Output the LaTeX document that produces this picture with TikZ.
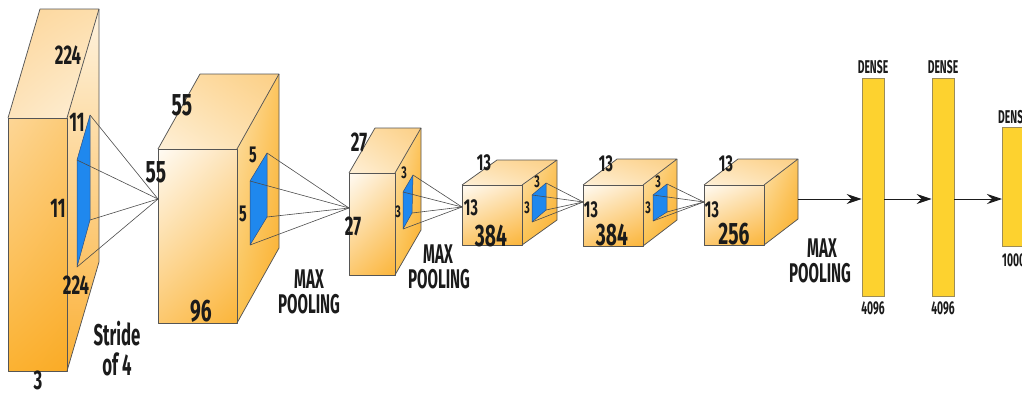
\documentclass[tikz,border=0pt]{standalone}
\usepackage{fontspec}
\newfontfamily\labfont{Fira Sans}[FakeStretch=0.56]
\newfontfamily\numfont{Fira Sans}[FakeStretch=0.62]
\usetikzlibrary{arrows.meta,shadings}

\definecolor{edgegray}{HTML}{555555}
\definecolor{ink}{HTML}{1B1B1B}
\definecolor{kblue}{HTML}{1F88EE}
\definecolor{kedge}{HTML}{2F4F7F}
\definecolor{densefill}{HTML}{FDD22F}
\definecolor{densedraw}{HTML}{9C8C58}

\tikzset{
  edge/.style={draw=edgegray, line width=0.75pt, line join=round},
  ray/.style={draw=edgegray!90!black, line width=0.6pt},
  kern/.style={fill=kblue, draw=kedge, line width=0.5pt, line join=round},
  arr/.style={draw=ink, line width=0.9pt, -{Stealth[length=15pt,width=10pt,inset=5pt]}},
  dense/.style={draw=densedraw, fill=densefill, line width=0.7pt, inner sep=0pt, minimum width=22pt},
  % face shadings of the input volume
  inp top/.style={upper left={rgb,255:red,252;green,214;blue,155}, upper right={rgb,255:red,253;green,222;blue,172},
                  lower left={rgb,255:red,253;green,228;blue,188}, lower right={rgb,255:red,254;green,240;blue,216}},
  inp side/.style={top color={rgb,255:red,254;green,243;blue,224}, bottom color={rgb,255:red,251;green,176;blue,54}},
  inp front/.style={upper left={rgb,255:red,253;green,214;blue,150}, upper right={rgb,255:red,252;green,203;blue,120},
                    lower left={rgb,255:red,251;green,178;blue,50}, lower right={rgb,255:red,250;green,171;blue,38}},
  % face shadings of the feature maps
  fm top/.style={upper left={rgb,255:red,253;green,224;blue,174}, upper right={rgb,255:red,252;green,207;blue,133},
                 lower left={rgb,255:red,254;green,240;blue,216}, lower right={rgb,255:red,253;green,221;blue,166}},
  fm side/.style={upper left={rgb,255:red,253;green,226;blue,176}, upper right={rgb,255:red,252;green,197;blue,94},
                  lower left={rgb,255:red,251;green,194;blue,80}, lower right={rgb,255:red,250;green,174;blue,42}},
  fm front/.style={upper left={rgb,255:red,255;green,251;blue,244}, upper right={rgb,255:red,253;green,227;blue,184},
                   lower left={rgb,255:red,252;green,200;blue,110}, lower right={rgb,255:red,251;green,181;blue,58}},
  lbl/.style={text=ink, inner sep=0pt},
  szXL/.style={lbl, font=\numfont\bfseries\fontsize{31}{31}\selectfont},
  szL/.style={lbl, font=\numfont\bfseries\fontsize{27}{27}\selectfont},
  szM/.style={lbl, font=\numfont\bfseries\fontsize{23}{23}\selectfont},
  szS/.style={lbl, font=\numfont\bfseries\fontsize{17}{17}\selectfont},
  szD/.style={lbl, font=\labfont\bfseries\fontsize{18.5}{18.5}\selectfont},
  wordL/.style={lbl, font=\labfont\bfseries\fontsize{27}{27}\selectfont},
  wordXL/.style={lbl, font=\labfont\bfseries\fontsize{30}{30}\selectfont},
}

% cuboid: name, x, y (front top-left), width, height, depth dx, depth dy, face scheme
\newcommand\cnnbox[8]{%
  \coordinate (#1-ftl) at (#2,#3);
  \coordinate (#1-ftr) at ({#2+#4},#3);
  \coordinate (#1-fbl) at (#2,{#3+#5});
  \coordinate (#1-fbr) at ({#2+#4},{#3+#5});
  \coordinate (#1-btl) at ({#2+#6},{#3+#7});
  \coordinate (#1-btr) at ({#2+#4+#6},{#3+#7});
  \coordinate (#1-bbr) at ({#2+#4+#6},{#3+#5+#7});
  \shade[#8 top] (#1-ftl) -- (#1-btl) -- (#1-btr) -- (#1-ftr) -- cycle;
  \shade[#8 side] (#1-ftr) -- (#1-btr) -- (#1-bbr) -- (#1-fbr) -- cycle;
  \shade[#8 front] (#1-ftl) rectangle (#1-fbr);
  \draw[edge] (#1-ftl) rectangle (#1-fbr);
  \draw[edge] (#1-ftl) -- (#1-btl) -- (#1-btr) -- (#1-ftr);
  \draw[edge] (#1-btr) -- (#1-bbr) -- (#1-fbr);
}

% kernel window with rays: name, top-back, top-front, bottom-front, bottom-back, apex
\newcommand\kernwin[6]{%
  \coordinate (#1-tb) at #2;
  \coordinate (#1-tf) at #3;
  \coordinate (#1-bf) at #4;
  \coordinate (#1-bb) at #5;
  \coordinate (#1-apex) at #6;
  \path[kern] (#1-tb) -- (#1-tf) -- (#1-bf) -- (#1-bb) -- cycle;
  \draw[ray] (#1-tb) -- (#1-apex);
  \draw[ray] (#1-tf) -- (#1-apex);
  \draw[ray] (#1-bb) -- (#1-apex);
  \draw[ray] (#1-bf) -- (#1-apex);
}

\begin{document}
\begin{tikzpicture}[x=1pt, y=-1pt]
  \useasboundingbox (0,0) rectangle (1022,394);
  \clip (0,0) rectangle (1022,394);
  \fill[white] (0,0) rectangle (1022,394);

  % convolution volumes
  \cnnbox{b1}{8}{118}{59}{253}{32}{-109}{inp}
  \cnnbox{b2}{158}{149}{79}{174}{42}{-75}{fm}
  \cnnbox{b3}{349}{173}{46}{102}{26}{-45}{fm}
  \cnnbox{b4}{462}{185}{60}{60}{35}{-25}{fm}
  \cnnbox{b5}{583}{185}{60}{61}{34}{-26}{fm}
  \cnnbox{b6}{704}{185}{60}{60}{34}{-26}{fm}

  % receptive fields
  \kernwin{k1}{(90,115)}{(77,160)}{(77,267)}{(90,220)}{(158,199)}
  \kernwin{k2}{(267,153)}{(250,181)}{(250,245)}{(267,217)}{(349,208)}
  \kernwin{k3}{(413,175)}{(403,192)}{(403,229)}{(412,213)}{(462,207)}
  \kernwin{k4}{(546,183)}{(532,195)}{(532,222)}{(546,210)}{(583,202)}
  \kernwin{k5}{(667,184)}{(653,195)}{(653,221)}{(667,212)}{(704,202)}

  % fully connected layers
  \node[dense, minimum height=218pt] (d1) at (873,187) {};
  \node[dense, minimum height=218pt] (d2) at (943,187) {};
  \node[dense, minimum width=30pt, minimum height=119pt, anchor=north west] (d3) at (1002,127) {};

  \coordinate (b6out) at (798,199);
  \draw[arr] (b6out) -- (b6out -| d1.west);
  \draw[arr] (d1.east |- b6out) -- (d2.west |- b6out);
  \draw[arr] (d2.east |- b6out) -- (d3.west |- b6out);

  % labels: input
  \node[szL] (t1) at (68,55) {224};
  \node[szL] (t2) at (77,122) {11};
  \node[szL] (t3) at (58,208) {11};
  \node[szL] (t4) at (76,285) {224};
  \node[szL] (t5) at (38,380) {3};
  \node[wordXL] (t6) at (117,334) {Stride};
  \node[wordXL] (t7) at (117,364) {of 4};

  % labels: first conv output
  \node[szXL] (t8) at (156,172) {55};
  \node[szXL] (t9) at (182,105) {55};
  \node[szM] (t10) at (253,155) {5};
  \node[szM] (t11) at (243,214) {5};
  \node[szXL] (t12) at (201,311) {96};
  \node[wordL] (t13) at (309,279) {MAX};
  \node[wordL] (t14) at (309,304) {POOLING};

  % labels: second conv output
  \node[szL] (t15) at (359,142) {27};
  \node[szL] (t16) at (353,226) {27};
  \node[szS] (t17) at (404,173) {3};
  \node[szS] (t18) at (398,212) {3};
  \node[wordL] (t19) at (438,254) {MAX};
  \node[wordL] (t20) at (439,279) {POOLING};

  % labels: 3x3 convolutions
  \node[szM] (t21) at (484,163) {13};
  \node[szM] (t22) at (471,208) {13};
  \node[szXL] (t23) at (491,236) {384};
  \node[szS] (t24) at (537,182) {3};
  \node[szS] (t25) at (527,208) {3};

  \node[szM] (t26) at (606,164) {13};
  \node[szM] (t27) at (591,210) {13};
  \node[szXL] (t28) at (612,235) {384};
  \node[szS] (t29) at (658,182) {3};
  \node[szS] (t30) at (648,208) {3};

  \node[szM] (t31) at (726,164) {13};
  \node[szM] (t32) at (712,210) {13};
  \node[szXL] (t33) at (734,234) {256};
  \node[wordL] (t34) at (822,248) {MAX};
  \node[wordL] (t35) at (820,273) {POOLING};

  % labels: dense layers
  \node[szD] (t36) at (873,67) {DENSE};
  \node[szD] (t37) at (943,67) {DENSE};
  \node[szD, anchor=west] (t38) at (998,117) {DENSE};
  \node[szD] (t39) at (873,308) {4096};
  \node[szD] (t40) at (943,308) {4096};
  \node[szD, anchor=west] (t41) at (1002,260) {1000};
\end{tikzpicture}
\end{document}
